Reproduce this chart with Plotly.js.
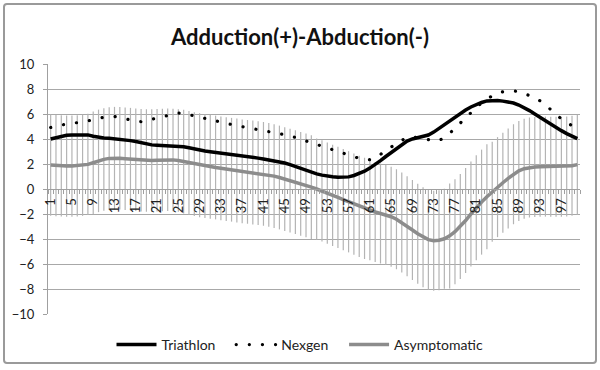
<!DOCTYPE html>
<html>
<head>
<meta charset="utf-8">
<script src="https://cdn.plot.ly/plotly-3.0.1.min.js"></script>
<style>
  html, body { margin: 0; padding: 0; background: #fff; }
  #wrap { position: relative; width: 600px; height: 370px; }
  #chart { width: 600px; height: 370px; }
  #frame { position: absolute; left: 3px; top: 3px; width: 594px; height: 361px; box-sizing: border-box;
           border: 2px solid #9a9a9a; border-radius: 4px; pointer-events: none; }
  .scatterlayer .trace:nth-child(3) .js-line { stroke-linecap: round; }
  .legend .traces:nth-child(2) .js-line { stroke-linecap: round; }
</style>
</head>
<body>
<div id="wrap"><div id="chart"></div><div id="frame"></div></div>
<script>
const categories = [1,2,3,4,5,6,7,8,9,10,11,12,13,14,15,16,17,18,19,20,21,22,23,24,25,26,27,28,29,30,31,32,33,34,35,36,37,38,39,40,41,42,43,44,45,46,47,48,49,50,51,52,53,54,55,56,57,58,59,60,61,62,63,64,65,66,67,68,69,70,71,72,73,74,75,76,77,78,79,80,81,82,83,84,85,86,87,88,89,90,91,92,93,94,95,96,97,98,99,100];

const tickLabels = [1,5,9,13,17,21,25,29,33,37,41,45,49,53,57,61,65,69,73,77,81,85,89,93,97];

const seriesNames = ['Triathlon', 'Nexgen', 'Asymptomatic'];

const triathlon = [4.0,4.1,4.22,4.3,4.33,4.33,4.35,4.33,4.22,4.12,4.08,4.06,4.03,3.99,3.93,3.87,3.8,3.7,3.6,3.53,
  3.5,3.49,3.48,3.47,3.44,3.38,3.3,3.2,3.1,3.04,2.98,2.93,2.88,2.84,2.78,2.72,2.66,2.6,2.54,2.47,
  2.4,2.33,2.26,2.18,2.08,1.95,1.8,1.62,1.45,1.32,1.21,1.11,1.03,0.98,0.95,0.95,0.97,1.08,1.22,1.42,
  1.67,1.95,2.27,2.6,2.92,3.25,3.57,3.83,4.0,4.1,4.18,4.32,4.55,4.85,5.15,5.45,5.75,6.05,6.32,6.56,
  6.76,6.92,7.05,7.1,7.08,7.03,6.98,6.88,6.72,6.52,6.27,6.0,5.72,5.45,5.18,4.92,4.67,4.43,4.22,4.03];

const nexgen = [4.92,5.02,5.12,5.2,5.25,5.29,5.37,5.45,5.55,5.65,5.74,5.78,5.8,5.72,5.6,5.48,5.42,5.38,5.45,5.58,
  5.68,5.78,5.88,5.98,6.08,6.05,5.95,5.85,5.74,5.63,5.52,5.42,5.32,5.23,5.14,5.06,4.99,4.91,4.84,4.77,
  4.7,4.62,4.54,4.45,4.37,4.26,4.12,3.98,3.83,3.69,3.55,3.41,3.27,3.13,2.98,2.84,2.7,2.57,2.45,2.36,
  2.35,2.48,2.75,3.05,3.35,3.65,3.92,4.12,4.17,4.12,4.05,3.95,3.85,3.88,4.1,4.45,4.85,5.25,5.68,6.1,
  6.55,6.9,7.2,7.45,7.68,7.78,7.85,7.85,7.78,7.64,7.48,7.3,7.05,6.75,6.35,5.95,5.6,5.3,5.05,4.85];

const asymptomatic = [1.92,1.88,1.85,1.84,1.84,1.86,1.9,1.97,2.1,2.25,2.37,2.45,2.47,2.46,2.43,2.39,2.34,2.3,2.28,2.28,
  2.3,2.33,2.35,2.33,2.28,2.2,2.1,2.0,1.9,1.84,1.78,1.72,1.66,1.6,1.54,1.48,1.42,1.37,1.32,1.27,
  1.21,1.13,1.03,0.92,0.8,0.68,0.55,0.42,0.3,0.15,0.0,-0.15,-0.32,-0.5,-0.67,-0.85,-1.02,-1.2,-1.38,-1.55,
  -1.7,-1.84,-1.96,-2.08,-2.22,-2.42,-2.68,-2.98,-3.28,-3.58,-3.85,-4.05,-4.13,-4.1,-3.98,-3.75,-3.42,-3.0,-2.52,-2.0,
  -1.5,-1.05,-0.62,-0.22,0.15,0.5,0.85,1.18,1.45,1.62,1.72,1.76,1.78,1.79,1.79,1.78,1.78,1.8,1.86,1.95];

const asymptomaticSD = [4.05,4.05,4.05,4.05,4.05,4.05,4.05,4.05,4.1,4.1,4.1,4.1,4.1,4.1,4.1,4.1,4.1,4.1,4.1,4.1,
  4.1,4.1,4.1,4.1,4.1,4.15,4.15,4.15,4.15,4.15,4.15,4.15,4.15,4.15,4.15,4.15,4.15,4.15,4.15,4.15,
  4.15,4.15,4.15,4.15,4.15,4.15,4.15,4.15,4.15,4.15,4.05,4.05,4.05,4.05,4.05,4.05,4.05,4.05,4.05,4.05,
  4.0,4.0,4.0,4.0,4.0,4.0,4.0,4.0,4.0,4.0,4.0,4.0,4.0,4.0,4.0,4.2,4.2,4.2,4.2,4.2,
  4.2,4.2,4.2,4.0,4.0,4.0,4.0,4.0,4.0,4.0,4.0,4.0,4.0,4.0,4.0,4.0,4.0,4.0,4.0,4.0];

const FONT = 'Lato, "Open Sans", sans-serif';
const PAD = '\u00A0\u00A0\u00A0';

const traces = [
  {
    x: categories, y: asymptomatic, type: 'scatter', mode: 'markers',
    marker: { size: 1, opacity: 0 }, showlegend: false, hoverinfo: 'skip',
    error_y: { type: 'data', array: asymptomaticSD, visible: true, color: '#b4b4b4', thickness: 1.2, width: 0 }
  },
  {
    x: categories, y: triathlon, type: 'scatter', mode: 'lines', name: seriesNames[0] + PAD,
    line: { color: '#000000', width: 3.5 }
  },
  {
    x: categories, y: nexgen, type: 'scatter', mode: 'lines', name: seriesNames[1] + PAD,
    line: { color: '#000000', width: 3.2, dash: '0.1px,13px' }
  },
  {
    x: categories, y: asymptomatic, type: 'scatter', mode: 'lines', name: seriesNames[2],
    line: { color: '#8c8c8c', width: 3.5 }
  }
];

const layout = {
  width: 600, height: 370,
  margin: { l: 48, r: 20, t: 64, b: 56, pad: 0 },
  paper_bgcolor: '#ffffff', plot_bgcolor: '#ffffff',
  font: { family: FONT, color: '#222', size: 12 },
  title: {
    text: '<b>Adduction(+)-Abduction(-)</b>',
    font: { family: FONT, size: 22, color: '#111' },
    x: 0.5, xref: 'container', xanchor: 'center',
    y: 1 - 37 / 370, yref: 'container', yanchor: 'middle'
  },
  xaxis: {
    type: 'linear', range: [0.5, 100.5],
    anchor: 'free', position: 0.5,
    showgrid: false, zeroline: false,
    showline: true, linecolor: '#a0a0a0', linewidth: 1,
    tickmode: 'array', tickvals: tickLabels, ticktext: tickLabels.map(String),
    ticks: 'outside', ticklen: 0, tickcolor: '#a0a0a0',
    ticklabelstandoff: 3,
    tickangle: -90, tickfont: { family: FONT, size: 13, color: '#222' },
    minor: { tick0: 0.5, dtick: 1, ticks: 'outside', ticklen: 4, tickcolor: '#a0a0a0', tickwidth: 1, showgrid: false },
    automargin: false, fixedrange: true
  },
  yaxis: {
    range: [-10, 10], dtick: 2, tick0: 0,
    showgrid: true, gridcolor: '#a8a8a8', gridwidth: 1,
    zeroline: false,
    showline: true, linecolor: '#a0a0a0', linewidth: 1,
    ticks: 'outside', ticklen: 4, tickcolor: '#a0a0a0',
    tickfont: { family: FONT, size: 13, color: '#222' },
    ticklabelstandoff: 6,
    automargin: false, fixedrange: true
  },
  legend: {
    orientation: 'h', x: 0.5, xref: 'container', xanchor: 'center',
    y: 1 - 345 / 370, yref: 'container', yanchor: 'middle',
    font: { family: FONT, size: 14, color: '#222' },
    bgcolor: 'rgba(0,0,0,0)', itemwidth: 40, tracegroupgap: 0
  },
  showlegend: true
};

Plotly.newPlot('chart', traces, layout, { staticPlot: true, displayModeBar: false });
</script>
</body>
</html>
